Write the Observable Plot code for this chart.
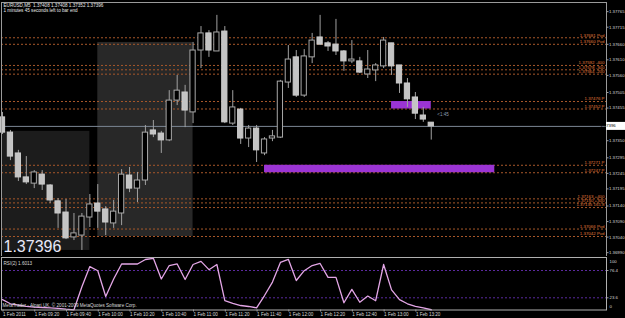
<!DOCTYPE html>
<html><head><meta charset="utf-8">
<script src="https://cdn.jsdelivr.net/npm/d3@7"></script>
<script src="https://cdn.jsdelivr.net/npm/@observablehq/plot@0.6"></script>
<style>
html,body{margin:0;padding:0;background:#000;}
#wrap{position:relative;width:625px;height:318px;overflow:hidden;background:#000;}
#wrap svg{position:absolute;left:0;}
</style></head><body><div id="wrap"></div>
<script>
// ---- data (EURUSD, M5, 1 Feb 2011, 09:00 .. 13:30) ----
const symbol = "EURUSD,M5";
const opens  = [1.37425,1.37376,1.37309,1.37232,1.37212,1.37241,1.37206,1.37155,1.37119,1.37039,1.37045,1.37103,1.37148,1.37129,1.37084,1.37116,1.37238,1.37196,1.37222,1.37383,1.37373,1.37351,1.37479,1.37505,1.37441,1.37640,1.37695,1.37637,1.37701,1.37405,1.37450,1.37357,1.37389,1.37309,1.37357,1.37360,1.37537,1.37618,1.37495,1.37618,1.37682,1.37663,1.37659,1.37637,1.37605,1.37605,1.37563,1.37576,1.37589,1.37663,1.37592,1.37534,1.37489,1.37431,1.37408];
const highs  = [1.37441,1.37383,1.37319,1.37299,1.37254,1.37254,1.37209,1.37164,1.37161,1.37116,1.37116,1.37177,1.37209,1.37138,1.37158,1.37257,1.37264,1.37248,1.37399,1.37415,1.37380,1.37511,1.37560,1.37528,1.37666,1.37717,1.37704,1.37753,1.37717,1.37511,1.37454,1.37399,1.37399,1.37360,1.37383,1.37544,1.37656,1.37640,1.37643,1.37695,1.37753,1.37669,1.37740,1.37640,1.37672,1.37618,1.37640,1.37598,1.37682,1.37663,1.37592,1.37550,1.37505,1.37457,1.37408];
const lows   = [1.37370,1.37286,1.37219,1.37209,1.37196,1.37190,1.37148,1.37068,1.37032,1.37029,1.36997,1.37071,1.37068,1.37045,1.37068,1.37077,1.37183,1.37151,1.37206,1.37360,1.37309,1.37347,1.37463,1.37392,1.37405,1.37582,1.37618,1.37637,1.37405,1.37399,1.37338,1.37328,1.37280,1.37302,1.37347,1.37357,1.37518,1.37489,1.37489,1.37598,1.37656,1.37637,1.37624,1.37573,1.37598,1.37566,1.37550,1.37540,1.37582,1.37560,1.37502,1.37457,1.37418,1.37409,1.37352];
const closes = [1.37376,1.37299,1.37232,1.37216,1.37248,1.37209,1.37158,1.37116,1.37036,1.37052,1.37106,1.37145,1.37122,1.37087,1.37122,1.37241,1.37196,1.37222,1.37376,1.37370,1.37351,1.37479,1.37511,1.37447,1.37640,1.37695,1.37640,1.37698,1.37409,1.37457,1.37357,1.37389,1.37319,1.37354,1.37364,1.37540,1.37611,1.37495,1.37621,1.37672,1.37659,1.37653,1.37637,1.37605,1.37611,1.37569,1.37579,1.37592,1.37672,1.37589,1.37534,1.37483,1.37437,1.37418,1.37396];
const rsiValues = [20,12,9.5,7,5.4,4.8,4.2,3,1.5,0.4,45,84,76,26,60,89,89,89,97.7,100,60,86,89,59,88,94,78,88,18,13,8.7,6.8,4.2,28,54,92,98,57,76,86,90,63,63,14,40,15,27,18,88,39,20,12,7,4,0.5];
const rsiName = "RSI(2) 1.6013";
const rsiLevels = [76.4, 23.6];
const rsiBounds = [100, 0];

const timeTickBars = [0,4,8,12,16,20,24,28,32,36,40,44,48,52];
const timeLabels = ["1 Feb 2011","1 Feb 09:20","1 Feb 09:40","1 Feb 10:00","1 Feb 10:20","1 Feb 10:40","1 Feb 11:00","1 Feb 11:20","1 Feb 11:40","1 Feb 12:00","1 Feb 12:20","1 Feb 12:40","1 Feb 13:00","1 Feb 13:20"];
const priceTicks = [1.36990,1.37040,1.37090,1.37140,1.37195,1.37245,1.37295,1.37350,1.37455,1.37505,1.37560,1.37610,1.37660,1.37715,1.37765];

const levelValues = [1.37681,1.37660,1.37592,1.37578,1.37564,1.37476,1.37452,1.37271,1.37247,1.37163,1.37150,1.37135,1.37066,1.37042];
const levelTags   = ["Pvd","Pvd","-400","-300","-200","P","P","P","P","+400","+300","161.8","Pvd","Pvd"];

// shaded session boxes (bar index from/to, price low/high)
const sessionStart = [0, 12];
const sessionEnd   = [11, 24];
const sessionLow   = [1.36997, 1.37042];
const sessionHigh  = [1.37380, 1.37666];
// purple zones
const zoneStart = [33, 49];
const zoneEnd   = [62, 54];
const zoneLow   = [1.37247, 1.37452];
const zoneHigh  = [1.37271, 1.37476];

const headerLine2 = "1 minutes 45 seconds left to bar end";
const countdown = "<1:45";
const copyright = "MetaTrader - Alpari UK, \u00A9 2001-2009 MetaQuotes Software Corp.";

// ---- tables ----
const candles = opens.map((o, i) => ({i, o, h: highs[i], l: lows[i], c: closes[i]}));
const rsiData = rsiValues.map((v, i) => ({i, v}));
const sessions = sessionStart.map((s, k) => ({s, e: sessionEnd[k], lo: sessionLow[k], hi: sessionHigh[k]}));
const zones = zoneStart.map((s, k) => ({s, e: zoneEnd[k], lo: zoneLow[k], hi: zoneHigh[k]}));
const levels = levelValues.map((v, k) => ({v, tag: levelTags[k]}));
const last = candles[candles.length - 1];
const fmt = d => d.toFixed(5);

const xOpts = {type: "linear", domain: [0, 54], range: [2, 2 + 54 * 7.94], axis: null};
const font = "'Liberation Sans', Arial, sans-serif";

const main = Plot.plot({
  width: 625, height: 257,
  marginLeft: 1, marginRight: 19, marginTop: 2, marginBottom: 1,
  x: xOpts,
  y: {domain: [1.3699, 1.3779], range: [252.17, 3.37], axis: null},
  style: {background: "#000", color: "#d8d8d8", fontFamily: font, fontSize: "4.6px", overflow: "visible"},
  marks: [
    Plot.rect([sessions[0]], {x1: "s", x2: "e", y1: "lo", y2: "hi", fill: "#1c1c1c"}),
    Plot.rect([sessions[1]], {x1: "s", x2: "e", y1: "lo", y2: "hi", fill: "#282828"}),
    Plot.ruleY(levels, {y: "v", stroke: "#a8582a", strokeDasharray: "2,2"}),
    Plot.rect(zones, {x1: "s", x2: "e", y1: "lo", y2: "hi", fill: "#9b34d4"}),
    Plot.ruleY([last.c], {stroke: "#7b8794"}),
    Plot.ruleX(candles, {x: "i", y1: "l", y2: "h", stroke: "#a0a0a0"}),
    Plot.rect(candles, {
      x1: d => d.i - 0.33, x2: d => d.i + 0.33,
      y1: d => Math.min(d.o, d.c), y2: d => Math.max(d.o, d.c),
      fill: d => d.c < d.o ? "#c4c4c4" : "#000",
      stroke: d => d.c < d.o ? "#cccccc" : "#a8a8a8"
    }),
    Plot.text(levels, {y: "v", text: d => `${fmt(d.v)} ${d.tag}`, frameAnchor: "right", textAnchor: "end", dx: -2, dy: -2.5, fontSize: 4.4, fill: "#e07a3a"}),
    Plot.text([last], {x: "i", y: "c", text: () => countdown, textAnchor: "start", dx: 6, dy: -12, fill: "#8c9cb0"}),
    Plot.text([last], {text: d => fmt(d.c), frameAnchor: "bottom-left", textAnchor: "start", lineAnchor: "bottom", dx: 2, dy: -4.5, fontSize: 16, fill: "#e8e8f8"}),
    Plot.text([last], {text: d => `${symbol}  ${fmt(d.o)} ${fmt(d.h)} ${fmt(d.l)} ${fmt(d.c)}`, frameAnchor: "top-left", textAnchor: "start", lineAnchor: "middle", dx: 2, dy: 3, fill: "#e8e8e8"}),
    Plot.text([headerLine2], {text: d => d, frameAnchor: "top-left", textAnchor: "start", lineAnchor: "middle", dx: 2, dy: 8.5, fill: "#e8e8e8"}),
    Plot.frame({stroke: "#9a9a9a"}),
    Plot.axisY({anchor: "right", ticks: priceTicks, tickFormat: fmt, tickSize: 1.5, tickPadding: 1, fontSize: 4.3, label: null, stroke: "#a0a0a0", fill: "#d8d8d8"})
  ]
});
main.style.top = "0px";

// current price flag on the price axis
{
  const y = main.scale("y").apply(last.c);
  const xr = 625 - 19;
  const g = d3.select(main).append("g");
  g.append("rect").attr("x", xr).attr("y", y - 4).attr("width", 19).attr("height", 8).attr("fill", "#ffffff");
  g.append("text").attr("x", xr + 2).attr("y", y).attr("dy", "0.35em").attr("fill", "#000")
    .attr("font-size", "4.3px").attr("font-family", font).text(fmt(last.c));
}

const rsiPlot = Plot.plot({
  width: 625, height: 62,
  marginLeft: 1, marginRight: 19, marginTop: 1, marginBottom: 8.5,
  x: xOpts,
  y: {domain: [0, 100], range: [53.5, 1.8], axis: null},
  style: {background: "#000", color: "#d8d8d8", fontFamily: font, fontSize: "4.6px", overflow: "visible"},
  marks: [
    Plot.ruleY(rsiLevels, {stroke: "#5b2a9e", strokeDasharray: "2,2"}),
    Plot.line(rsiData, {x: "i", y: "v", stroke: "#e3a6e6", strokeWidth: 1.3}),
    Plot.frame({stroke: "#b0b0b0"}),
    Plot.axisY({anchor: "right", ticks: rsiLevels, tickFormat: d => String(d), tickSize: 1.5, tickPadding: 1.5, fontSize: 4.3, label: null, stroke: "#a0a0a0", fill: "#d8d8d8"}),
    Plot.text([rsiBounds[0]], {y: d => d, text: d => String(d), frameAnchor: "right", textAnchor: "start", dx: 3, dy: 3, fontSize: 4.3, fill: "#d8d8d8"}),
    Plot.text([rsiBounds[1]], {y: d => d, text: d => String(d), frameAnchor: "right", textAnchor: "start", dx: 3, dy: -3, fontSize: 4.3, fill: "#d8d8d8"}),
    Plot.axisX({anchor: "bottom", ticks: timeTickBars, tickFormat: d => timeLabels[timeTickBars.indexOf(d)], textAnchor: "start", tickSize: 2, tickPadding: 1, dx: 0.5, label: null, stroke: "#a0a0a0", fill: "#d8d8d8"}),
    Plot.text([rsiName], {text: d => d, frameAnchor: "top-left", textAnchor: "start", lineAnchor: "middle", dx: 2, dy: 5.7, fill: "#d8d8d8"}),
    Plot.text([copyright], {text: d => d, frameAnchor: "bottom-left", textAnchor: "start", lineAnchor: "middle", dx: 1, dy: -4.5, fill: "#d8d8d8"})
  ]
});
rsiPlot.style.top = "256px";

const wrap = document.getElementById("wrap");
wrap.appendChild(main);
wrap.appendChild(rsiPlot);
</script>
</body></html>
